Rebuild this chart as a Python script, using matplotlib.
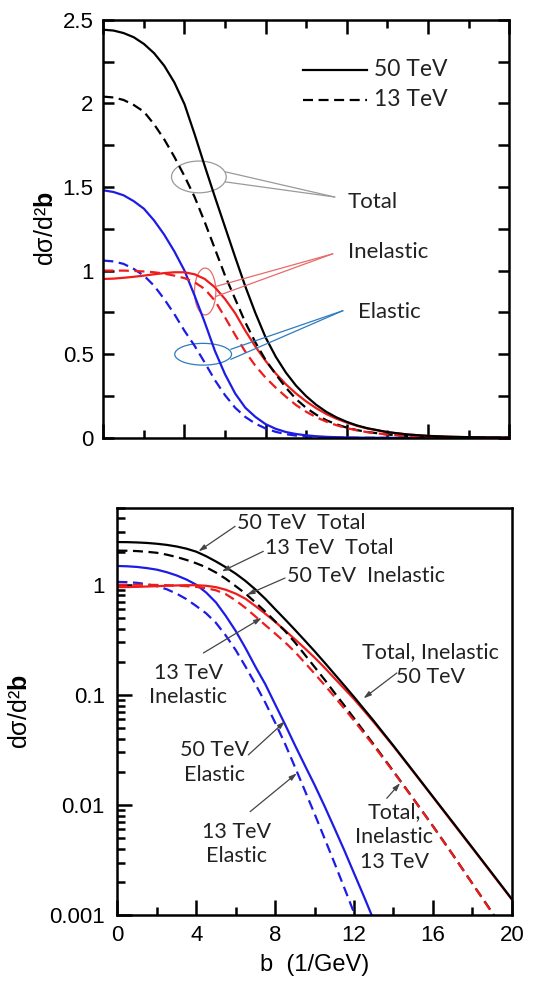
import matplotlib
matplotlib.use("Agg")
import matplotlib.pyplot as plt
from matplotlib.patches import Ellipse
from matplotlib.ticker import MultipleLocator, FixedLocator, NullFormatter

plt.rcParams["font.family"] = ["Liberation Sans", "DejaVu Sans"]
plt.rcParams["mathtext.fontset"] = "custom"
plt.rcParams["mathtext.rm"] = "Liberation Sans"
plt.rcParams["mathtext.bf"] = "Liberation Sans:bold"

# impact parameter b (1/GeV)
b = [0, 0.5, 1, 1.5, 2, 2.5, 3, 3.5, 4, 4.5, 5, 5.5, 6, 6.5, 7, 7.5, 8, 8.5,
     9, 9.5, 10, 10.5, 11, 11.5, 12, 12.5, 13, 14, 15, 16, 17, 18, 19, 20]

# d sigma / d^2 b
total_50 = [2.44, 2.435, 2.42, 2.395, 2.355, 2.30, 2.225, 2.125, 1.995, 1.815,
            1.625, 1.44, 1.26, 1.08, 0.905, 0.745, 0.60, 0.485, 0.39, 0.312,
            0.249, 0.197, 0.155, 0.122, 0.0957, 0.0745, 0.058, 0.0345, 0.0203,
            0.0119, 0.0070, 0.0041, 0.0024, 0.0014]
total_13 = [2.04, 2.035, 2.02, 1.99, 1.95, 1.875, 1.785, 1.68, 1.565, 1.44,
            1.29, 1.13, 0.97, 0.83, 0.69, 0.57, 0.465, 0.38, 0.30, 0.232,
            0.179, 0.138, 0.105, 0.0805, 0.0613, 0.0466, 0.0354, 0.0202,
            0.01146, 0.00644, 0.00356, 0.00194, 0.00106, 0.00057]
inel_50 = [0.95, 0.952, 0.957, 0.963, 0.97, 0.978, 0.985, 0.99, 0.99, 0.978,
           0.95, 0.90, 0.83, 0.745, 0.64, 0.545, 0.46, 0.385, 0.32, 0.265,
           0.218, 0.177, 0.142, 0.114, 0.0915, 0.072, 0.0565, 0.0341, 0.0201,
           0.0118, 0.0069, 0.00405, 0.00237, 0.00139]
inel_13 = [1.0, 1.0, 1.0, 0.998, 0.995, 0.99, 0.982, 0.97, 0.955, 0.93, 0.89,
           0.82, 0.72, 0.615, 0.515, 0.43, 0.36, 0.30, 0.246, 0.196, 0.156,
           0.123, 0.0966, 0.0752, 0.0584, 0.0449, 0.0345, 0.0200, 0.0114,
           0.00641, 0.00354, 0.00193, 0.00105, 0.00057]
el_50 = [1.48, 1.47, 1.45, 1.415, 1.37, 1.30, 1.215, 1.115, 1.0, 0.85, 0.69,
         0.52, 0.38, 0.265, 0.18, 0.125, 0.082, 0.054, 0.035, 0.023, 0.0152,
         0.0098, 0.0062, 0.0039, 0.0024, 0.00148, 0.0009, 0.00031, 0.0001,
         3e-5, 8e-6, 2e-6, 4e-7, 8e-8]
el_13 = [1.06, 1.055, 1.04, 1.01, 0.97, 0.91, 0.83, 0.74, 0.64, 0.55, 0.45,
         0.345, 0.255, 0.18, 0.125, 0.085, 0.056, 0.036, 0.0222, 0.0136,
         0.0083, 0.005, 0.003, 0.00178, 0.00105, 0.0006, 0.00034, 0.0001,
         2.5e-5, 6e-6, 1.3e-6, 2.5e-7, 5e-8, 1e-8]

top_yticks = [0, 0.5, 1, 1.5, 2, 2.5]
top_ylabels = ["0", "0.5", "1", "1.5", "2", "2.5"]
log_yticks = [0.001, 0.01, 0.1, 1]
log_ylabels = ["0.001", "0.01", "0.1", "1"]
xticks = [0, 4, 8, 12, 16, 20]

BLACK = "black"
RED = "#ee1c1c"
BLUE = "#1c1ce6"
DASH = (0, (4.5, 2.5))
ANN = "Lato"
TXT = "#222222"

# drawing order: inelastic under total so the merged tails look black
curves = [
    (el_13, BLUE, DASH), (el_50, BLUE, "-"),
    (inel_50, RED, "-"), (total_13, BLACK, DASH),
    (inel_13, RED, DASH), (total_50, BLACK, "-"),
]

fig = plt.figure(figsize=(5.41, 9.84), dpi=100)
ax1 = fig.add_axes([0.191, 0.555, 0.750, 0.425])
ax2 = fig.add_axes([0.217, 0.070, 0.729, 0.414])
ylab = "d\u03c3/d\u00b2$\\mathbf{b}$"

# ---------- top panel: linear ----------
for y, c, ls in curves:
    ax1.plot(b, y, color=c, ls=ls, lw=1.6)
ax1.set_xlim(0, 20)
ax1.set_ylim(0, 2.5)
ax1.xaxis.set_major_locator(MultipleLocator(4))
ax1.xaxis.set_minor_locator(MultipleLocator(2))
ax1.yaxis.set_major_locator(FixedLocator(top_yticks))
ax1.yaxis.set_minor_locator(MultipleLocator(0.25))
ax1.set_yticklabels(top_ylabels)
ax1.tick_params(which="both", direction="in", top=True, right=True,
                labelbottom=False, width=1.8, labelsize=16, pad=7)
ax1.tick_params(axis="x", which="major", length=10)
ax1.tick_params(axis="x", which="minor", length=6)
ax1.tick_params(axis="y", which="both", length=8)
ax1.set_ylabel(ylab, fontsize=18, labelpad=3)
for s in ax1.spines.values():
    s.set_linewidth(1.8)

# legend drawn by hand
ax1.plot([9.85, 13.0], [2.20, 2.20], color=BLACK, lw=1.6)
ax1.plot([9.85, 13.0], [2.02, 2.02], color=BLACK, lw=1.6, ls=DASH)
ax1.text(13.35, 2.20, "50 TeV", family=ANN, fontsize=16.5, va="center", color=TXT)
ax1.text(13.35, 2.02, "13 TeV", family=ANN, fontsize=16.5, va="center", color=TXT)

# callout bubbles
bubbles = [
    ("Total", "#9a9a9a", (4.71, 1.56), 2.7, 0.19, (11.4, 1.44), 0.03, (12.05, 1.41)),
    ("Inelastic", "#e86a6a", (5.02, 0.875), 1.05, 0.28, (11.3, 1.10), 0.03, (12.05, 1.11)),
    ("Elastic", "#2e7bc0", (4.92, 0.50), 2.8, 0.13, (11.8, 0.76), 0.03, (12.55, 0.75)),
]
for label, col, (cx, cy), w, h, (ex, ey), dy, (tx, ty) in bubbles:
    ax1.add_patch(Ellipse((cx, cy), w, h, fill=False, ec=col, lw=0.9))
    sx = cx + w / 2 * 0.98
    ax1.plot([sx, ex], [cy + dy, ey], color=col, lw=0.9)
    ax1.plot([sx, ex], [cy - dy, ey], color=col, lw=0.9)
    ax1.text(tx, ty, label, family=ANN, fontsize=16, va="center", color=TXT)

# ---------- bottom panel: log ----------
for y, c, ls in curves:
    ax2.plot(b, y, color=c, ls=ls, lw=1.6)
ax2.set_yscale("log")
ax2.set_xlim(0, 20)
ax2.set_ylim(0.001, 5)
ax2.set_xticks(xticks)
ax2.xaxis.set_minor_locator(MultipleLocator(2))
ax2.set_yticks(log_yticks)
ax2.set_yticklabels(log_ylabels)
ax2.yaxis.set_minor_formatter(NullFormatter())
ax2.tick_params(which="both", direction="in", top=False, right=False,
                width=1.8, labelsize=16)
ax2.tick_params(which="major", length=11)
ax2.tick_params(which="minor", length=6)
ax2.tick_params(axis="y", pad=9)
ax2.tick_params(axis="x", pad=7)
ax2.set_xlabel("b  (1/GeV)", fontsize=17, labelpad=6)
ax2.set_ylabel(ylab, fontsize=18, labelpad=12)
for s in ax2.spines.values():
    s.set_linewidth(1.8)

arrow = dict(arrowstyle="-|>,head_length=0.45,head_width=0.14", color="#444444",
             lw=0.9, shrinkA=0, shrinkB=0)
notes = [
    ("50 TeV  Total", (6.05, 3.63), "left", (5.97, 3.39), (4.11, 2.01)),
    ("13 TeV  Total", (7.49, 2.15), "left", (7.40, 2.01), (5.29, 1.32)),
    ("50 TeV  Inelastic", (8.59, 1.19), "left", (8.50, 1.15), (6.56, 0.81)),
    ("13 TeV\nInelastic", (3.6, 0.123), "center", (4.36, 0.24), (7.32, 0.50)),
    ("Total, Inelastic\n50 TeV", (15.88, 0.19), "center", (14.17, 0.158), (12.48, 0.093)),
    ("50 TeV\nElastic", (4.9, 0.0245), "center", (6.64, 0.0285), (8.50, 0.0575)),
    ("13 TeV\nElastic", (6.02, 0.00442), "center", (6.73, 0.0087), (9.10, 0.0194)),
    ("Total,\nInelastic\n13 TeV", (14.03, 0.00515), "center", (13.66, 0.0115), (14.34, 0.0158)),
]
for txt, (tx, ty), ha, start, tip in notes:
    ax2.text(tx, ty, txt, family=ANN, fontsize=15.5, ha=ha, va="center",
             multialignment="center", linespacing=1.3, color=TXT)
    ax2.annotate("", xy=tip, xytext=start, arrowprops=arrow)

fig.savefig("out.png", dpi=100)
